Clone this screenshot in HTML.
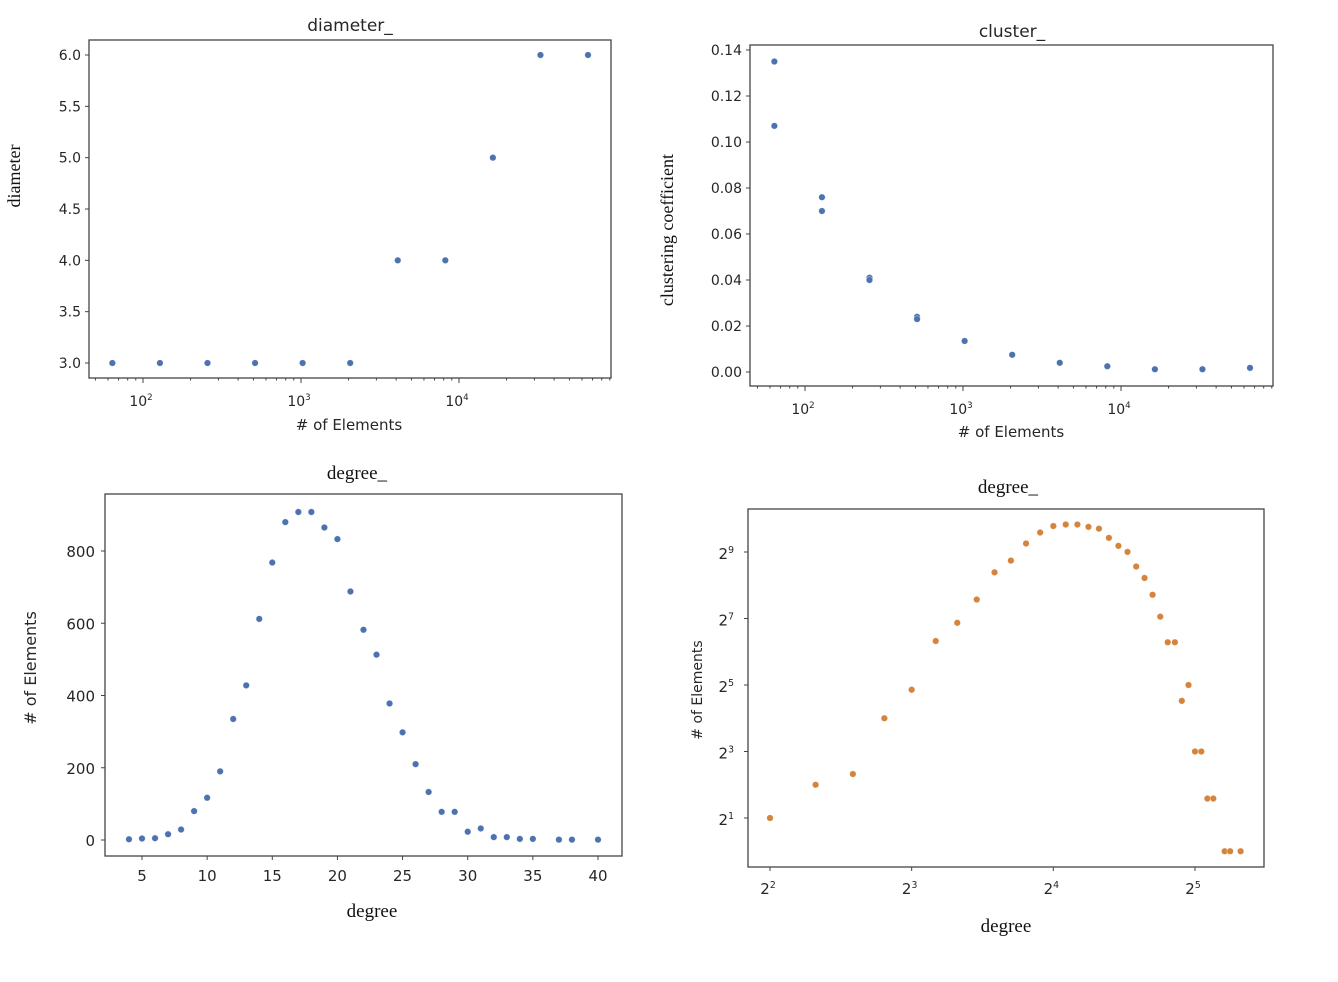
<!DOCTYPE html>
<html><head><meta charset="utf-8"><style>
html,body{margin:0;padding:0;background:#fff;}
svg{display:block;}
.s{font-family:"DejaVu Sans","Liberation Sans",sans-serif;fill:#262626;}
.r{font-family:"Liberation Serif",serif;fill:#111;}
</style></head><body>
<svg id="fig" width="1338" height="982" viewBox="0 0 1338 982" xmlns="http://www.w3.org/2000/svg"></svg>
<script>
const sizes = [64,128,256,512,1024,2048,4096,8192,16384,32768,65536];
const diameterVals = [3,3,3,3,3,3,4,4,5,6,6];
const clusterSizes = [64,64,128,128,256,256,512,512,1024,2048,4096,8192,16384,32768,65536];
const clusterVals = [0.135,0.107,0.076,0.070,0.041,0.040,0.024,0.023,0.0135,0.0075,0.004,0.0025,0.0012,0.0012,0.0018];
const degrees = [4,5,6,7,8,9,10,11,12,13,14,15,16,17,18,19,20,21,22,23,24,25,26,27,28,29,30,31,32,33,34,35,37,38,40];
const counts = [2,4,5,16,29,80,117,190,335,428,612,768,880,908,908,865,833,688,582,513,378,298,210,133,78,78,23,32,8,8,3,3,1,1,1];
const diamYTicks = ["3.0","3.5","4.0","4.5","5.0","5.5","6.0"];
const clusYTicks = ["0.00","0.02","0.04","0.06","0.08","0.10","0.12","0.14"];
const degYTicks = [0,200,400,600,800];
const degXTicks = [5,10,15,20,25,30,35,40];
const log10Ticks = [2,3,4];
const log2XTicks = [2,3,4,5];
const log2YTicks = [1,3,5,7,9];

const NS="http://www.w3.org/2000/svg";
const svg=document.getElementById('fig');
function el(tag,attrs,parent,text){const e=document.createElementNS(NS,tag);for(const k in attrs)e.setAttribute(k,attrs[k]);if(text!==undefined)e.textContent=text;(parent||svg).appendChild(e);return e;}
function lin(d0,d1,p0,p1){return v=>p0+(v-d0)*(p1-p0)/(d1-d0);}

function panel(name,box){
  const g=el('g',{});
  
  
  const f=el('rect',{x:box[0],y:box[1],width:box[2]-box[0],height:box[3]-box[1],fill:'none',stroke:'#444','stroke-width':1.3},g);
  
  
  return g;
}
function tick(g,x1,y1,x2,y2){el('line',{x1,y1,x2,y2,stroke:'#444','stroke-width':1},g);}
function label(g,name,x,y,txt,cls,size,anchor,rot,sup){
  const t=el('text',{x,y,'class':cls,'font-size':size,'text-anchor':anchor||'middle'},g);
  if(rot)t.setAttribute('transform','rotate(-90 '+x+' '+y+')');
  
  
  t.appendChild(document.createTextNode(txt));
  if(sup!==undefined){el('tspan',{'font-size':size*0.62,dy:-6},t,sup);}
  return t;
}
function dot(g,name,x,y,c){
  const d=el('circle',{cx:x,cy:y,r:3.3,fill:c,stroke:'#fff','stroke-width':0.6,'stroke-opacity':0.6},g);
  
  
}
const BLUE='#4c72b0',ORANGE='#d4843c';

(function(){
  const box=[89,40,611,378];
  const g=panel('diameter-chart',box);
  const X=v=>lin(2,3,143,301)(Math.log10(v));
  const Y=lin(3,6,363,55);
  diamYTicks.forEach(t=>{const y=Y(+t);tick(g,box[0]-4,y,box[0],y);label(g,'y-tick-label',box[0]-8,y+5,t,'s',14,'end');});
  log10Ticks.forEach(p=>{const x=X(Math.pow(10,p));tick(g,x,box[3],x,box[3]+5);label(g,'x-tick-label',x-2,box[3]+28,'10','s',14,'middle',false,String(p));});
  for(let p=1;p<5;p++)for(let m=2;m<10;m++){const x=X(m*Math.pow(10,p));if(x>box[0]&&x<box[2])tick(g,x,box[3],x,box[3]+2.5);}
  sizes.forEach((s,i)=>dot(g,'diameter-point',X(s),Y(diameterVals[i]),BLUE));
  label(g,'chart-title',350,31,'diameter_','s',17);
  label(g,'x-axis-title',349,430,'# of Elements','s',15);
  label(g,'y-axis-title',20,176,'diameter','r',18,'middle',true);
})();

(function(){
  const box=[750,45,1273,386];
  const g=panel('cluster-chart',box);
  const X=v=>lin(2,3,805,963)(Math.log10(v));
  const Y=lin(0,0.14,372,50);
  clusYTicks.forEach(t=>{const y=Y(+t);tick(g,box[0]-4,y,box[0],y);label(g,'y-tick-label',box[0]-8,y+5,t,'s',14,'end');});
  log10Ticks.forEach(p=>{const x=X(Math.pow(10,p));tick(g,x,box[3],x,box[3]+5);label(g,'x-tick-label',x-2,box[3]+28,'10','s',14,'middle',false,String(p));});
  for(let p=1;p<5;p++)for(let m=2;m<10;m++){const x=X(m*Math.pow(10,p));if(x>box[0]&&x<box[2])tick(g,x,box[3],x,box[3]+2.5);}
  clusterSizes.forEach((s,i)=>dot(g,'cluster-point',X(s),Y(clusterVals[i]),BLUE));
  label(g,'chart-title',1012,37,'cluster_','s',17);
  label(g,'x-axis-title',1011,437,'# of Elements','s',15);
  label(g,'y-axis-title',673,230,'clustering coefficient','r',18,'middle',true);
})();

(function(){
  const box=[105,494,622,856];
  const g=panel('degree-linear-chart',box);
  const X=lin(5,40,142,598);
  const Y=lin(0,800,840,551);
  degYTicks.forEach(t=>{const y=Y(t);tick(g,box[0]-4,y,box[0],y);label(g,'y-tick-label',box[0]-10,y+6,String(t),'s',15,'end');});
  degXTicks.forEach(t=>{const x=X(t);tick(g,x,box[3],x,box[3]+4);label(g,'x-tick-label',x,box[3]+25,String(t),'s',15);});
  degrees.forEach((d,i)=>dot(g,'degree-point',X(d),Y(counts[i]),BLUE));
  label(g,'chart-title',357,479,'degree_','r',19);
  label(g,'x-axis-title',372,917,'degree','r',19);
  label(g,'y-axis-title',36,668,'# of Elements','s',16,'middle',true);
})();

(function(){
  const box=[748,509,1264,867];
  const g=panel('degree-loglog-chart',box);
  const X=v=>lin(2,5,770,1195)(Math.log2(v));
  const Y=v=>lin(1,9,818,552)(Math.log2(v));
  log2YTicks.forEach(p=>{const y=Y(Math.pow(2,p));tick(g,box[0]-4,y,box[0],y);label(g,'y-tick-label',box[0]-14,y+7,'2','s',15,'end',false,String(p));});
  log2XTicks.forEach(p=>{const x=X(Math.pow(2,p));tick(g,x,box[3],x,box[3]+4);label(g,'x-tick-label',x-2,box[3]+27,'2','s',15,'middle',false,String(p));});
  degrees.forEach((d,i)=>dot(g,'degree-loglog-point',X(d),Y(counts[i]),ORANGE));
  label(g,'chart-title',1008,493,'degree_','r',19);
  label(g,'x-axis-title',1006,932,'degree','r',19);
  label(g,'y-axis-title',702,690,'# of Elements','s',14,'middle',true);
})();
</script>
</body></html>
